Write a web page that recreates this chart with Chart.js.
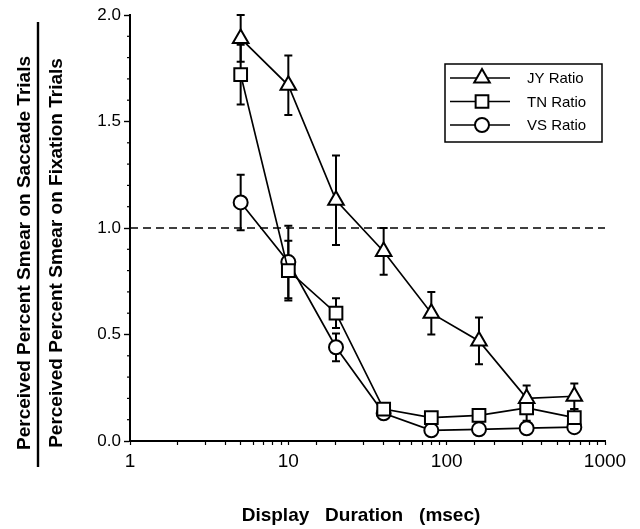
<!DOCTYPE html>
<html>
<head>
<meta charset="utf-8">
<script src="https://cdn.jsdelivr.net/npm/chart.js@4.4.0/dist/chart.umd.min.js"></script>
<style>
  html, body { margin: 0; padding: 0; background: #fff; }
  #wrap { width: 640px; height: 529px; position: relative; }
</style>
</head>
<body>
<div id="wrap"><canvas id="graf"></canvas></div>
<script>
// data
const durations = [5, 10, 20, 40, 80, 160, 320, 640]
const jyRatio = [1.89, 1.67, 1.13, 0.89, 0.60, 0.47, 0.20, 0.21]
const jyErr   = [0.11, 0.14, 0.21, 0.11, 0.10, 0.11, 0.06, 0.06]
const tnRatio = [1.72, 0.80, 0.60, 0.15, 0.11, 0.12, 0.155, 0.11]
const tnErr   = [0.14, 0.14, 0.07, 0.02, 0.02, 0.02, 0.06, 0.04]
const vsRatio = [1.12, 0.84, 0.44, 0.13, 0.05, 0.055, 0.06, 0.065]
const vsErr   = [0.13, 0.17, 0.065, 0.02, 0.01, 0.01, 0.01, 0.01]
const seriesNames = ['JY Ratio', 'TN Ratio', 'VS Ratio']
const xTickLabels = [1, 10, 100, 1000]
const yTickLabels = [0, 0.5, 1.0, 1.5, 2.0]
const refValue = 1.0
const yTitle = ['Perceived Percent Smear on Saccade Trials', 'Perceived Percent Smear on Fixation Trials']
const xTitle = 'Display   Duration   (msec)'

const graf = document.getElementById('graf')
const FONT = '"Liberation Sans", Arial, sans-serif'

function pts(vals) {
    return durations.map((d, i) => ({ x: d, y: vals[i] }))
}

function mkSet(label, vals, errs, style, r) {
    return {
        label: label,
        data: pts(vals),
        errors: errs,
        borderColor: '#000',
        borderWidth: 1.7,
        backgroundColor: '#fff',
        pointStyle: style,
        pointRadius: r,
        pointBorderWidth: 2,
        pointBackgroundColor: '#fff',
        pointBorderColor: '#000',
        tension: 0,
        fill: false
    }
}

// dashed line at 1.0 and the error bars, under the markers
const underPlugin = {
    id: 'under',
    beforeDatasetsDraw(chart) {
        const ctx = chart.ctx
        const xs = chart.scales.x
        const ys = chart.scales.y
        const a = chart.chartArea
        ctx.save()
        ctx.strokeStyle = '#000'
        ctx.lineWidth = 1.6
        ctx.setLineDash([8, 5])
        const yr = ys.getPixelForValue(refValue)
        ctx.beginPath()
        ctx.moveTo(a.left, yr)
        ctx.lineTo(a.right, yr)
        ctx.stroke()
        ctx.setLineDash([])
        ctx.lineWidth = 2
        chart.data.datasets.forEach(ds => {
            ds.data.forEach((p, i) => {
                const e = ds.errors[i]
                if (!e) return
                const px = xs.getPixelForValue(p.x)
                const y1 = ys.getPixelForValue(p.y + e)
                const y2 = ys.getPixelForValue(p.y - e)
                ctx.beginPath()
                ctx.moveTo(px, y1); ctx.lineTo(px, y2)
                ctx.moveTo(px - 4, y1); ctx.lineTo(px + 4, y1)
                ctx.moveTo(px - 4, y2); ctx.lineTo(px + 4, y2)
                ctx.stroke()
            })
        })
        ctx.restore()
    }
}

// short minor ticks on y, axis titles with the fraction bar, boxed legend
const overPlugin = {
    id: 'over',
    afterDraw(chart) {
        const ctx = chart.ctx
        const ys = chart.scales.y
        const a = chart.chartArea
        ctx.save()
        ctx.strokeStyle = '#000'
        ctx.fillStyle = '#000'
        ctx.lineWidth = 1.2
        ys.ticks.forEach(t => {
            if (Math.abs(t.value * 2 - Math.round(t.value * 2)) < 1e-6) return
            const py = ys.getPixelForValue(t.value)
            ctx.beginPath()
            ctx.moveTo(a.left - 3, py)
            ctx.lineTo(a.left, py)
            ctx.stroke()
        })

        // y title as a fraction
        ctx.font = 'bold 19px ' + FONT
        ctx.textAlign = 'center'
        ctx.textBaseline = 'alphabetic'
        const cy = 253
        ;[30, 62].forEach((bx, i) => {
            ctx.save()
            ctx.translate(bx, cy)
            ctx.rotate(-Math.PI / 2)
            ctx.fillText(yTitle[i], 0, 0)
            ctx.restore()
        })
        ctx.lineWidth = 2.4
        ctx.beginPath()
        ctx.moveTo(38, 22)
        ctx.lineTo(38, 467)
        ctx.stroke()

        // x title
        ctx.fillText(xTitle, 361, 521)

        // legend
        const bx = 445, by = 64, bw = 157, bh = 78
        ctx.lineWidth = 1.5
        ctx.strokeRect(bx, by, bw, bh)
        ctx.font = '15px ' + FONT
        ctx.textAlign = 'left'
        ctx.textBaseline = 'middle'
        chart.data.datasets.forEach((ds, i) => {
            const ry = by + 14 + i * 23.5
            ctx.strokeStyle = '#000'
            ctx.lineWidth = 1.7
            ctx.beginPath()
            ctx.moveTo(bx + 5, ry)
            ctx.lineTo(bx + 65, ry)
            ctx.stroke()
            ctx.fillStyle = '#fff'
            ctx.lineWidth = ds.pointBorderWidth
            Chart.helpers.drawPoint(ctx, {
                pointStyle: ds.pointStyle,
                radius: ds.pointRadius,
                borderWidth: ds.pointBorderWidth,
                rotation: 0
            }, bx + 37, ry)
            ctx.fillStyle = '#000'
            ctx.fillText(ds.label, bx + 82, ry + 1)
        })
        ctx.restore()
    }
}

let myChart = new Chart(graf, {
    type: 'line',
    data: {
        datasets: [
            mkSet(seriesNames[0], jyRatio, jyErr, 'triangle', 9),
            mkSet(seriesNames[1], tnRatio, tnErr, 'rect', 9),
            mkSet(seriesNames[2], vsRatio, vsErr, 'circle', 7)
        ]
    },
    options: {
        responsive: true,
        maintainAspectRatio: false,
        animation: false,
        layout: { padding: { left: 0, top: 15, right: 35, bottom: 0 } },
        plugins: {
            legend: { display: false },
            tooltip: { enabled: false }
        },
        scales: {
            x: {
                type: 'logarithmic',
                min: 1,
                max: 1000,
                afterFit: s => { s.height = 88 },
                border: { color: '#000', width: 2 },
                grid: { drawOnChartArea: false, color: '#000', tickLength: 4, tickWidth: 1.2 },
                ticks: {
                    autoSkip: false,
                    maxRotation: 0,
                    color: '#000',
                    padding: 5,
                    font: { family: FONT, size: 19 },
                    callback: v => xTickLabels.includes(v) ? String(v) : ''
                }
            },
            y: {
                min: 0,
                max: 2,
                afterFit: s => { s.width = 130 },
                border: { color: '#000', width: 2 },
                grid: {
                    drawOnChartArea: false,
                    tickLength: 6,
                    tickWidth: 1.4,
                    tickColor: c => yTickLabels.some(v => Math.abs(v - c.tick.value) < 1e-6) ? '#000' : 'rgba(0,0,0,0)'
                },
                ticks: {
                    stepSize: 0.1,
                    autoSkip: false,
                    color: '#000',
                    padding: 3,
                    font: { family: FONT, size: 17 },
                    callback: v => yTickLabels.some(t => Math.abs(t - v) < 1e-6) ? v.toFixed(1) : ''
                }
            }
        }
    },
    plugins: [underPlugin, overPlugin]
})
</script>
</body>
</html>
